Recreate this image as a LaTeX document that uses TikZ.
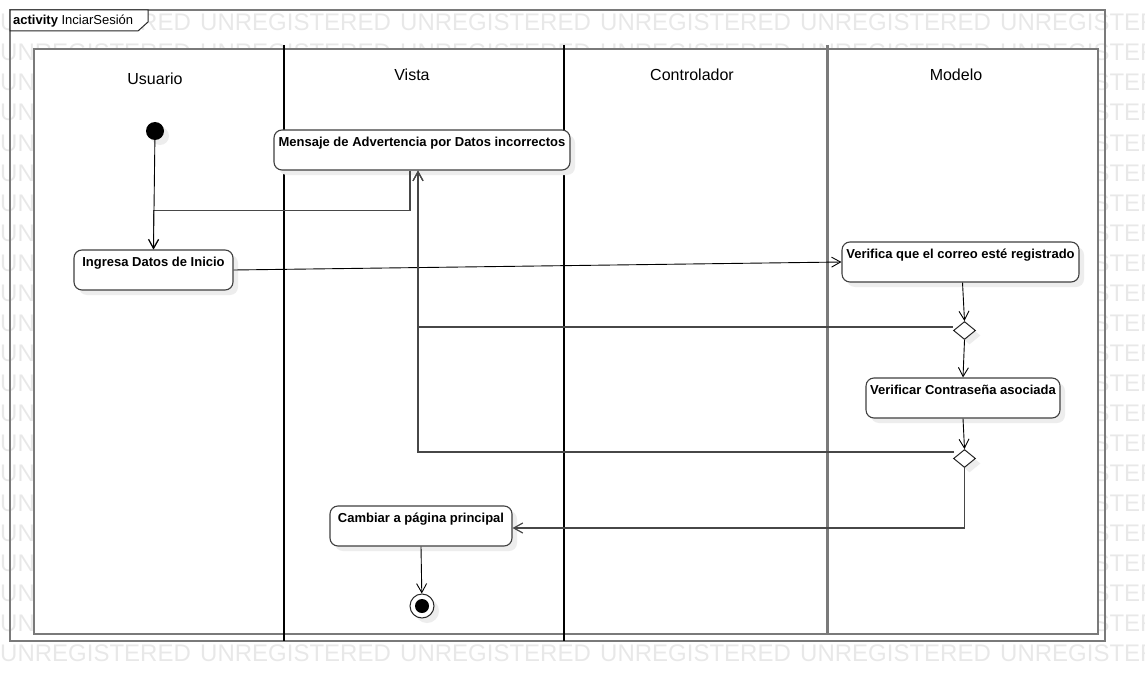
\documentclass[tikz,border=0pt]{standalone}
\usepackage{fontspec}
\setmainfont{Liberation Sans}
\usetikzlibrary{arrows.meta,shapes.geometric,shadows}
\begin{document}
\begin{tikzpicture}[x=1pt,y=-1pt,
  wm/.style={font=\fontsize{24}{24}\selectfont, text=black!9, anchor=base west, inner sep=0},
  shd/.style={drop shadow={shadow xshift=5pt, shadow yshift=-5pt, fill=black!7, opacity=1}},
  act/.style={draw=black!75, line width=1.1pt, rounded corners=8pt, fill=white, shd,
    minimum width=#1, minimum height=40pt, text height=9.5pt, text depth=16.5pt,
    inner ysep=7pt, inner xsep=0pt, font=\bfseries\fontsize{13}{13}\selectfont},
  dec/.style={diamond, draw=black!85, line width=1pt, fill=white, shd,
    minimum width=22pt, minimum height=18pt, inner sep=0pt},
  lanetitle/.style={font=\fontsize{16}{16}\selectfont, inner sep=0pt},
  flow/.style={draw=black, line width=0.9pt, -{Straight Barb[length=9pt,width=10pt]}},
  gflow/.style={draw=black!72, line width=1.2pt, -{Straight Barb[length=9pt,width=10pt]}},
  frame/.style={draw=black!52, line width=2pt},
]
\useasboundingbox (0,0) rectangle (1145,682);
\clip (0,0) rectangle (1145,682);
% watermark
\foreach \r in {0,...,21}{
  \foreach \c in {0,...,5}{
    \node[wm] at (200*\c, 31+30*\r) {UNREGISTERED};
  }
}
% frames
\draw[frame] (10,10) rectangle (1105,641);
\draw[frame, fill=white] (34,49) rectangle (1098,634);
\draw[black!85, line width=1pt, fill=white] (10,10) -- (148,10) -- (148,22) -- (138,31) -- (10,31) -- cycle;
\node[anchor=base west, inner sep=0pt, font=\fontsize{13}{13}\selectfont] (title) at (13,25) {\textbf{activity} InciarSesión};
% lane separators
\draw[black, line width=2pt] (284,45) -- (284,641);
\draw[black, line width=2pt] (564,45) -- (564,641);
\draw[black!52, line width=3pt] (827,45) -- (827,634);
% lane titles
\node[lanetitle] (l1) at (155,79) {Usuario};
\node[lanetitle] (l2) at (412,75) {Vista};
\node[lanetitle] (l3) at (692,75) {Controlador};
\node[lanetitle] (l4) at (956,75) {Modelo};
% nodes
\node[circle, fill=black, minimum size=18pt, inner sep=0pt, shd] (ini) at (155,131) {};
\node[act=296pt] (m) at (422,150) {Mensaje de Advertencia por Datos incorrectos};
\node[act=159pt] (ing) at (153.5,270) {Ingresa Datos de Inicio};
\node[act=237pt] (ver) at (960.5,262) {Verifica que el correo esté registrado};
\node[dec] (d1) at (964.5,330.5) {};
\node[act=194pt] (vc) at (963,398) {Verificar Contraseña asociada};
\node[dec] (d2) at (964.5,458.5) {};
\node[act=182pt] (cam) at (421,526) {Cambiar a página principal};
\node[circle, draw=black!85, fill=white, line width=1pt, minimum size=24pt, inner sep=0pt, shd] (fin) at (422,606) {};
\node[circle, fill=black, minimum size=14pt, inner sep=0pt] (fini) at (fin) {};
% connectors
\draw[gflow] ([xshift=-12pt]m.south) -- ++(0,40) -| (ing.north);
\draw[flow] (ini) -- (ing.north);
\draw[flow] (ing.east) -- (ver.west);
\draw[flow] ([xshift=2pt]ver.south) -- (d1.north);
\draw[flow] (d1.south) -- (vc.north);
\draw[flow] (vc.south) -- (d2.north);
\draw[gflow] ([yshift=3.5pt]d1.west) -| ([xshift=-4pt]m.south);
\draw[gflow] ([yshift=6.5pt,xshift=1pt]d2.west) -| ([xshift=-4pt]m.south);
\draw[gflow] (d2.south) |- ([yshift=-2pt]cam.east);
\draw[flow] (cam.south) -- (fin);
\end{tikzpicture}
\end{document}
